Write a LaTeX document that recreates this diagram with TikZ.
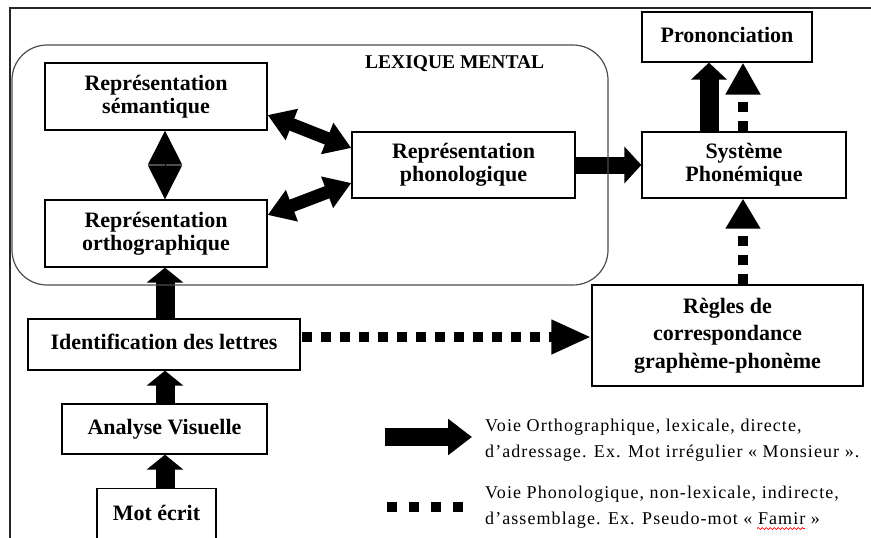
\documentclass[tikz,border=0pt]{standalone}
\usepackage{fontspec}
\setmainfont{Liberation Serif}
\newfontfamily\legfont[LetterSpace=6]{Liberation Serif}
\usetikzlibrary{arrows.meta,decorations.pathmorphing}
\begin{document}
\begin{tikzpicture}[x=1pt,y=-1pt,
  box/.style={draw, line width=1.3pt, align=center, inner sep=0pt,
    font=\bfseries\fontsize{22}{23}\selectfont},
  oneline/.style={text height=15pt, text depth=5pt},
  fatup/.style={line width=19pt, -{Triangle[length=15pt,width=36pt]}},
  fatright/.style={line width=17pt, -{Triangle[length=17pt,width=36pt]}},
  fattop/.style={line width=19pt, -{Triangle[length=17pt,width=35pt]}},
  dbl/.style={line width=13pt, {Triangle[length=26pt,width=32pt]}-{Triangle[length=26pt,width=32pt]}},
  diam/.style={line width=1pt, {Triangle[length=34pt,width=34pt]}-{Triangle[length=34pt,width=34pt]}},
  dotarrow/.style={line width=10pt, dash pattern=on 10pt off 9pt},
  legtext/.style={anchor=base west, inner sep=0pt, font=\legfont\fontsize{18}{26}\selectfont}
]
\useasboundingbox (0,0) rectangle (871,538);

% outer frame
\draw[line width=1.3pt, black!85] (10,545) -- (10,8) -- (880,8);

% boxes
\node[box, minimum width=222pt, minimum height=67pt] (sem) at (156,96.5) {Représentation\\sémantique};
\node[box, minimum width=222pt, minimum height=67pt] (ortho) at (156,233.5) {Représentation\\orthographique};
\node[box, minimum width=223pt, minimum height=66pt] (phono) at (463.5,165) {Représentation\\phonologique};
\node[box, oneline, minimum width=170pt, minimum height=50pt] (pron) at (727,37) {Prononciation};
\node[box, minimum width=204pt, minimum height=66pt] (sys) at (744,165) {Système\\Phonémique};
\node[box, minimum width=271pt, minimum height=101pt, font=\bfseries\fontsize{22}{27.5}\selectfont] (regles) at (727.5,335.5) {Règles de\\correspondance\\graphème-phonème};
\node[box, oneline, minimum width=272pt, minimum height=51pt] (ident) at (164,344.5) {Identification des lettres};
\node[box, oneline, minimum width=205pt, minimum height=50pt] (analyse) at (164.5,429) {Analyse Visuelle};
\node[box, anchor=north, minimum width=119pt, text height=29pt, text depth=40pt, inner ysep=3pt] (mot) at (156.5,488) {Mot écrit};

% solid arrows
\draw[diam] ([xshift=9pt]sem.south) -- ([xshift=9pt]ortho.north);
\draw[dbl] ([yshift=-18.5pt]sem.east) -- ([yshift=17pt]phono.west);
\draw[dbl] ([yshift=18.5pt]ortho.east) -- ([yshift=-18pt]phono.west);
\draw[fatright] (phono.east) -- (sys.west);
\draw[fattop] ([xshift=-35pt]sys.north) -- ([xshift=-18pt]pron.south);
\draw[fatup] ([xshift=1pt]ident.north) -- ([xshift=9pt]ortho.south);
\draw[fatup] ([xshift=0.5pt]analyse.north) -- ([xshift=1pt]ident.south);
\draw[fatup] ([xshift=8.5pt]mot.north) -- ([xshift=0.5pt]analyse.south);

% dotted arrows
\draw[dotarrow, -{Triangle[length=32pt,width=33pt]}] ([xshift=-1pt]sys.north) -- ([xshift=16pt]pron.south);
\draw[dotarrow, -{Triangle[length=30pt,width=33pt]}] ([xshift=15.5pt]regles.north) -- ([xshift=-1pt]sys.south);
\draw[dotarrow, -{Triangle[length=40pt,width=32pt]}] ([xshift=1.5pt,yshift=7.5pt]ident.east) -- ([yshift=-1.5pt]regles.west);

% lexicon frame
\node[draw, line width=1.2pt, draw=black!70, rounded corners=35pt, minimum width=596pt, minimum height=240pt, inner sep=0pt] (lex) at (310,165) {};
\node[anchor=base west, inner sep=0pt, font=\bfseries\fontsize{19.5}{20}\selectfont] (lexlabel) at (365,68) {LEXIQUE MENTAL};

% legend
\coordinate (l1a) at (385,437);
\coordinate (l1b) at (472,437);
\coordinate (l2a) at (387,507);
\coordinate (l2b) at (463,507);
\draw[line width=18pt, -{Triangle[length=24pt,width=35pt]}] (l1a) -- (l1b);
\draw[line width=10pt, dash pattern=on 10pt off 12pt] (l2a) -- (l2b);
\node[legtext] (t1) at (485,431) {Voie Orthographique, lexicale, directe,};
\node[legtext] (t2) at (485,457) {d’adressage. Ex. Mot irrégulier « Monsieur ».};
\node[legtext] (t3) at (485,498) {Voie Phonologique, non-lexicale, indirecte,};
\node[legtext] (t4) at (485,524) {d’assemblage. Ex. Pseudo-mot « Famir »};
\draw[red, line width=0.7pt, decorate, decoration={snake, amplitude=1pt, segment length=4pt}] (757,528.5) -- (805,528.5);
\end{tikzpicture}
\end{document}
